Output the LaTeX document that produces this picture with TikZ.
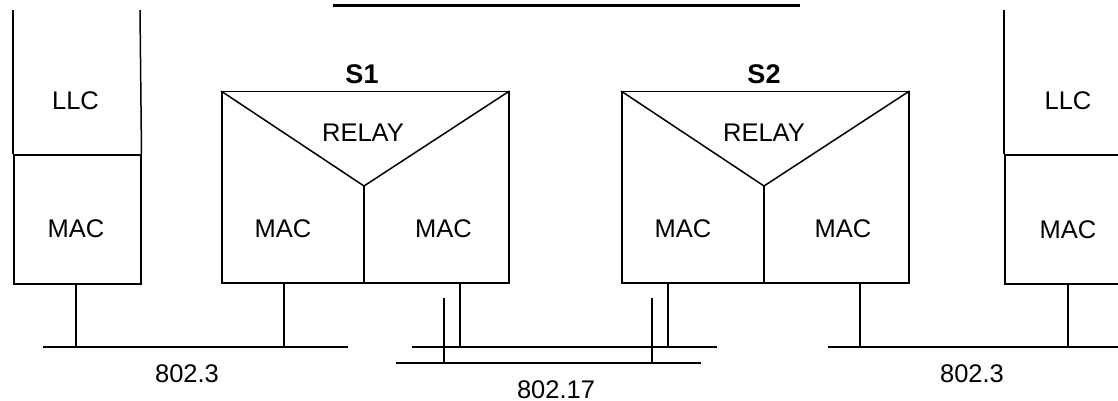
\documentclass[tikz,border=0pt]{standalone}
\usepackage{fontspec}
\setmainfont{Liberation Sans}
\begin{document}
\begin{tikzpicture}[x=1pt,y=-1pt,line width=1.5pt,
  lbl/.style={font=\fontsize{25.5}{30}\selectfont,inner sep=0pt,anchor=base},
  ttl/.style={font=\bfseries\fontsize{27}{32}\selectfont,inner sep=0pt,anchor=base},
  box/.style={draw,inner sep=0pt,anchor=north west},
  bridgebox/.style={box,minimum width=287pt,minimum height=191pt}]
\useasboundingbox (0,0) rectangle (1118,401);
\clip (0,0) rectangle (1118,401);

% title underline (title text lies above the picture)
\coordinate (tl) at (333,5.5);
\coordinate (tr) at (800,5.5);
\draw[line width=3.5pt] (tl) -- (tr);

% left end station
\node[box,minimum width=127pt,minimum height=129pt] (lmac) at (13,154) {};
\coordinate (ltopl) at (13,10);
\coordinate (ltopr) at (140,10);
\draw (ltopl) -- (lmac.north west);
\draw (ltopr) -- (lmac.north east);
\node[lbl] (lllct) at (75.5,110) {LLC};
\node[lbl] (lmact) at (76,237) {MAC};

% right end station
\node[box,minimum width=140pt,minimum height=129pt] (rmac) at (1004,154) {};
\coordinate (rtopl) at (1004,10);
\draw (rtopl) -- (rmac.north west);
\node[lbl] (rllct) at (1068,110) {LLC};
\node[lbl] (rmact) at (1068,238) {MAC};

% bridge S1
\node[bridgebox] (s1) at (221,91) {};
\coordinate (s1y) at (364,186);
\draw (s1.north west) -- (s1y) -- (s1.north east);
\draw (s1y) -- (s1y |- s1.south);
\node[ttl] (s1t) at (362,84) {S1};
\node[lbl] (s1relay) at (363,142) {RELAY};
\node[lbl] (s1macl) at (283,237) {MAC};
\node[lbl] (s1macr) at (443.5,237) {MAC};

% bridge S2
\node[bridgebox] (s2) at (621,91) {};
\coordinate (s2y) at (764,186);
\draw (s2.north west) -- (s2y) -- (s2.north east);
\draw (s2y) -- (s2y |- s2.south);
\node[ttl] (s2t) at (764,84) {S2};
\node[lbl] (s2relay) at (764,142) {RELAY};
\node[lbl] (s2macl) at (683,237) {MAC};
\node[lbl] (s2macr) at (843,237) {MAC};

% LAN segments
\coordinate (b1l) at (43,347);
\coordinate (b1r) at (348,347);
\coordinate (b2l) at (412,347);
\coordinate (b2r) at (717,347);
\coordinate (b3l) at (396,363);
\coordinate (b3r) at (701,363);
\coordinate (b4l) at (828,347);
\coordinate (b4r) at (1130,347);
\draw (b1l) -- (b1r);
\draw (b2l) -- (b2r);
\draw (b3l) -- (b3r);
\draw (b4l) -- (b4r);

% attachments
\coordinate (a0) at (76,283);
\coordinate (a1) at (284,282);
\coordinate (a2) at (460,282);
\coordinate (a3) at (668,282);
\coordinate (a4) at (860,282);
\coordinate (a5) at (1068,283);
\draw (a0) -- (a0 |- b1l);
\draw (a1) -- (a1 |- b1l);
\draw (a2) -- (a2 |- b2l);
\draw (a3) -- (a3 |- b2l);
\draw (a4) -- (a4 |- b4l);
\draw (a5) -- (a5 |- b4l);
\coordinate (v1) at (444,298);
\coordinate (v2) at (652,298);
\draw (v1) -- (v1 |- b3l);
\draw (v2) -- (v2 |- b3l);

% LAN labels
\node[lbl] (n1) at (187,382) {802.3};
\node[lbl] (n2) at (556,398) {802.17};
\node[lbl] (n3) at (972,382) {802.3};
\end{tikzpicture}
\end{document}
